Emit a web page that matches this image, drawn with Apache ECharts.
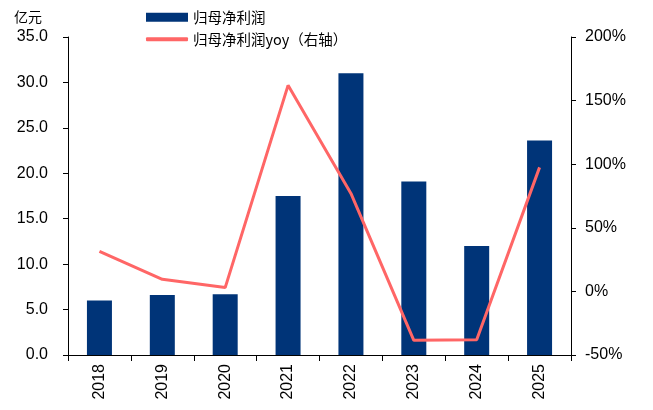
<!DOCTYPE html>
<html><head><meta charset="utf-8">
<script src="https://cdn.jsdelivr.net/npm/echarts@6/dist/echarts.min.js"></script>
<style>html,body{margin:0;padding:0;background:#fff}#c{width:653px;height:410px}</style>
</head><body><div id="c"></div>
<script>
const categories = ['2018','2019','2020','2021','2022','2023','2024','2025'];
const profit = [6.0, 6.6, 6.7, 17.5, 31.0, 19.1, 12.0, 23.6];
const yoy = [31.5, 9.5, 3.0, 162.0, 77.0, -38.5, -38.0, 97.5];
const leftTicks = {min: 0, max: 35, interval: 5};
const rightTicks = {min: -50, max: 200, interval: 50};

const font = '"Liberation Sans", Arial, "Noto Sans CJK SC", sans-serif';
const cjk = '"Noto Sans CJK SC", "Liberation Sans", sans-serif';
const chart = echarts.init(document.getElementById('c'));
chart.setOption({
  animation: false,
  textStyle: {fontFamily: font},
  grid: {left: 68, right: 82, top: 37, bottom: 55},
  legend: [
    {data: ['归母净利润'], left: 141, top: 5, itemWidth: 42, itemHeight: 9, itemGap: 8,
     icon: 'rect', textStyle: {fontFamily: cjk, fontSize: 14.5, color: '#000'}},
    {data: [{name: '归母净利润yoy（右轴）', icon: 'roundRect'}], left: 141, top: 27, itemWidth: 42, itemHeight: 4,
     textStyle: {fontFamily: cjk, fontSize: 14.5, color: '#000'}}
  ],
  graphic: [{type: 'text', left: 14, top: 10, style: {text: '亿元', font: '14px ' + cjk, fill: '#000'}}],
  xAxis: {
    type: 'category', data: categories,
    axisLine: {lineStyle: {color: '#000', width: 1}},
    axisTick: {show: true, alignWithLabel: false, length: 6, lineStyle: {color: '#000'}},
    axisLabel: {rotate: 90, color: '#000', fontSize: 16, fontFamily: font, margin: 9}
  },
  yAxis: [
    {type: 'value', min: leftTicks.min, max: leftTicks.max, interval: leftTicks.interval,
     axisLine: {show: true, lineStyle: {color: '#000'}},
     axisTick: {show: true, length: 5, lineStyle: {color: '#000'}},
     splitLine: {show: false},
     axisLabel: {color: '#000', fontSize: 16, fontFamily: font, margin: 20, formatter: v => v.toFixed(1)}},
    {type: 'value', min: rightTicks.min, max: rightTicks.max, interval: rightTicks.interval,
     axisLine: {show: true, lineStyle: {color: '#000'}},
     axisTick: {show: true, length: 5, lineStyle: {color: '#000'}},
     splitLine: {show: false},
     axisLabel: {color: '#000', fontSize: 16, fontFamily: font, margin: 14, formatter: v => v + '%'}}
  ],
  series: [
    {name: '归母净利润', type: 'bar', data: profit, barWidth: 25, itemStyle: {color: '#003478'}},
    {name: '归母净利润yoy（右轴）', type: 'line', yAxisIndex: 1, data: yoy, symbol: 'none',
     lineStyle: {color: '#FF6666', width: 3}, itemStyle: {color: '#FF6666'}}
  ]
});
</script></body></html>
